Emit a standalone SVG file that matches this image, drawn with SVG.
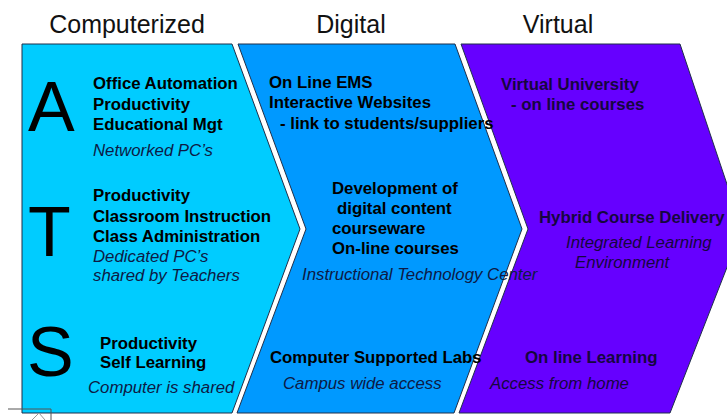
<svg xmlns="http://www.w3.org/2000/svg" width="727" height="420" viewBox="0 0 727 420">
  <style>
    .title { font-family: "Liberation Sans", Arial, sans-serif; font-size: 25px; fill: #111; text-anchor: middle; }
    .big { font-family: "Liberation Sans", Arial, sans-serif; font-size: 70px; fill: #000; }
    .b { font-family: "Liberation Sans", Arial, sans-serif; font-size: 16.8px; font-weight: bold; fill: #000; }
    .i { font-family: "Liberation Sans", Arial, sans-serif; font-size: 16.8px; font-style: italic; fill: #0d1a45; }
    .v { fill: #16063f; }
    .panel { stroke: #1f2f4a; stroke-width: 1; }
  </style>
  <rect width="727" height="420" fill="#ffffff"/>

  <g id="titles">
    <text class="title" x="127" y="33">Computerized</text>
    <text class="title" x="351" y="33">Digital</text>
    <text class="title" x="558" y="33">Virtual</text>
  </g>

  <g id="panel-shapes">
    <polygon id="shape-computerized" class="panel" fill="#00CCFF" points="22,44 232,44 300,229 232,413 22,413"/>
    <polygon id="shape-digital" class="panel" fill="#0099FF" points="238,44 455,44 522,229 454,413 237,413 306,229"/>
    <polygon id="shape-virtual" class="panel" fill="#6600FF" points="461,44 680,44 742,229 670,413 459,413 528,229"/>
  </g>

  <g id="panel-computerized">
    <text class="big" x="28" y="131" font-size="71">A</text>
    <text class="big" x="28" y="256">T</text>
    <text class="big" x="27" y="376" font-size="64">S</text>
    <text class="b" x="93" y="89">Office Automation</text>
    <text class="b" x="93" y="110">Productivity</text>
    <text class="b" x="93" y="130">Educational Mgt</text>
    <text class="i" x="93" y="156">Networked PC’s</text>
    <text class="b" x="93" y="201">Productivity</text>
    <text class="b" x="93" y="222">Classroom Instruction</text>
    <text class="b" x="93" y="242">Class Administration</text>
    <text class="i" x="93" y="262">Dedicated PC’s</text>
    <text class="i" x="93" y="281">shared by Teachers</text>
    <text class="b" x="100" y="349">Productivity</text>
    <text class="b" x="100" y="368">Self Learning</text>
    <text class="i" x="88" y="393">Computer is shared</text>
  </g>

  <g id="panel-digital">
    <text class="b" x="269" y="88">On Line EMS</text>
    <text class="b" x="269" y="108">Interactive Websites</text>
    <text class="b" x="280" y="129">- link to students/suppliers</text>
    <text class="b" x="332" y="194">Development of</text>
    <text class="b" x="337" y="214">digital content</text>
    <text class="b" x="332" y="234">courseware</text>
    <text class="b" x="332" y="254">On-line courses</text>
    <text class="i" x="302" y="280">Instructional Technology Center</text>
    <text class="b" x="270" y="363">Computer Supported Labs</text>
    <text class="i" x="283" y="389">Campus wide access</text>
  </g>

  <g id="panel-virtual">
    <text class="b v" x="501" y="90">Virtual University</text>
    <text class="b v" x="511" y="110">- on line courses</text>
    <text class="b v" x="539" y="223">Hybrid Course Delivery</text>
    <text class="i v" x="566" y="248">Integrated Learning</text>
    <text class="i v" x="575" y="268">Environment</text>
    <text class="b v" x="525" y="363">On line Learning</text>
    <text class="i v" x="490" y="389">Access from home</text>
  </g>

  <g id="connectors"></g>

  <g id="corner-mark" fill="none" stroke="#555" stroke-width="1">
    <polyline points="8,409 51,409 51,420"/>
    <polyline points="32,420 39,413 45,420" stroke="#999"/>
  </g>
</svg>
